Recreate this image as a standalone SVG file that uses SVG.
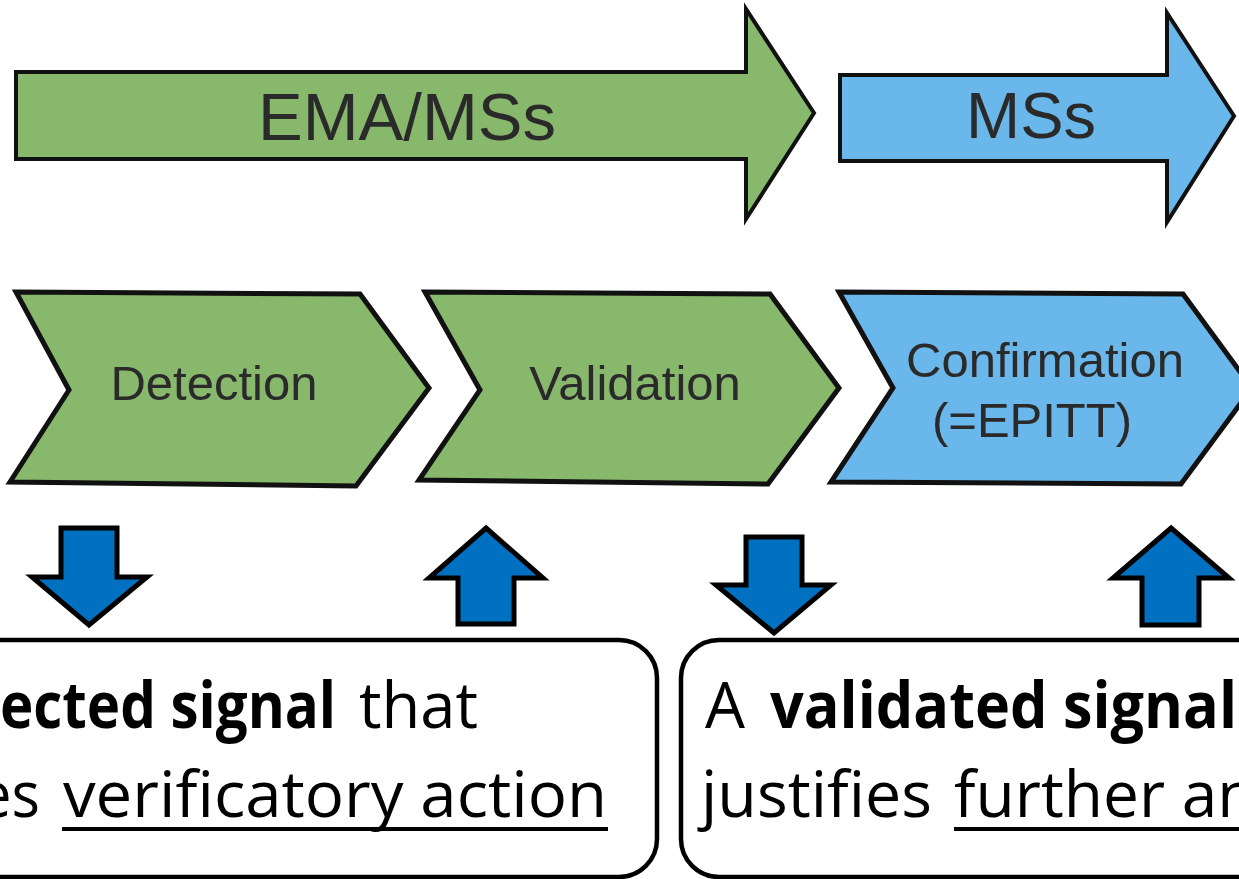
<svg xmlns="http://www.w3.org/2000/svg" width="1239" height="879" viewBox="0 0 1239 879">
<style>
.bg{fill:#ffffff}
.green{fill:#88B86C}
.blue{fill:#69B7EB}
.big{stroke:#111;stroke-width:4;stroke-linejoin:miter}
.chev{stroke:#111;stroke-width:5;stroke-linejoin:miter}
.lbl{font-family:"Liberation Sans",Arial,sans-serif;fill:#2a2a2a;text-anchor:middle}
.blk{fill:#0070C0;stroke:#000;stroke-width:5;stroke-linejoin:miter}
.box{fill:#ffffff;stroke:#000;stroke-width:4.5}
.t{font-family:"Open Sans","Noto Sans",sans-serif;font-size:64px;fill:#000}
.b{font-weight:bold}
.ul{stroke:#000;stroke-width:4}
</style>
<rect class="bg" x="0" y="0" width="1239" height="879"/>
<g id="node-ema-msss">
<path class="green big" d="M16,72 L746,72 L746,9 L814,113 L746,219 L746,159 L16,159 Z"/>
<text class="lbl" x="407" y="140" font-size="67">EMA/MSs</text>
</g>
<g id="node-mss">
<path class="blue big" d="M840,75 L1167,75 L1167,13 L1234,116 L1167,222 L1167,161 L840,161 Z"/>
<text class="lbl" x="1031" y="138" font-size="65">MSs</text>
</g>
<g id="node-detection">
<polygon class="green chev" points="16,292 360,294 429,388 356,486 10,482 69,390"/>
<text class="lbl" x="214" y="400" font-size="49">Detection</text>
</g>
<g id="node-validation">
<polygon class="green chev" points="425,292 770,294 839,388 768,484 419,480 480,390"/>
<text class="lbl" x="635" y="400" font-size="49">Validation</text>
</g>
<g id="node-confirmation">
<polygon class="blue chev" points="839,292 1183,294 1252,388 1181,484 831,482 893,388"/>
<text class="lbl" x="1045" y="377" font-size="49">Confirmation</text>
<text class="lbl" x="1032" y="437" font-size="49">(=EPITT)</text>
</g>
<g id="connectors">
<polygon class="blk" points="61,528 117,528 117,577 147,577 89,625 32,577 61,577"/>
<polygon class="blk" points="486,528 543,578 514,578 514,624 458,624 458,578 429,578"/>
<polygon class="blk" points="746,537 802,537 802,585 831,585 774,633 716,585 746,585"/>
<polygon class="blk" points="1171,528 1229,578 1199,578 1199,625 1142,625 1142,578 1113,578"/>
</g>
<g id="node-box-detected">
<rect class="box" x="-100" y="640" width="757" height="237" rx="38" ry="38"/>
<text class="t b" x="0" y="728" textLength="336" lengthAdjust="spacingAndGlyphs">ected signal</text>
<text class="t" x="359" y="728" textLength="119" lengthAdjust="spacingAndGlyphs">that</text>
<text class="t" x="-22" y="817" textLength="62" lengthAdjust="spacingAndGlyphs">es</text>
<text class="t" x="63" y="817" textLength="544" lengthAdjust="spacingAndGlyphs">verificatory action</text>
<line class="ul" x1="62" y1="829" x2="608" y2="829"/>
</g>
<g id="node-box-validated">
<rect class="box" x="681" y="640" width="700" height="237" rx="38" ry="38"/>
<text class="t" x="705" y="728" textLength="40" lengthAdjust="spacingAndGlyphs">A</text>
<text class="t b" x="770" y="728" textLength="467" lengthAdjust="spacingAndGlyphs">validated signal</text>
<text class="t" x="701" y="817" textLength="231" lengthAdjust="spacingAndGlyphs">justifies</text>
<text class="t" x="954" y="817">further an</text>
<line class="ul" x1="954" y1="829" x2="1239" y2="829"/>
</g>
</svg>
